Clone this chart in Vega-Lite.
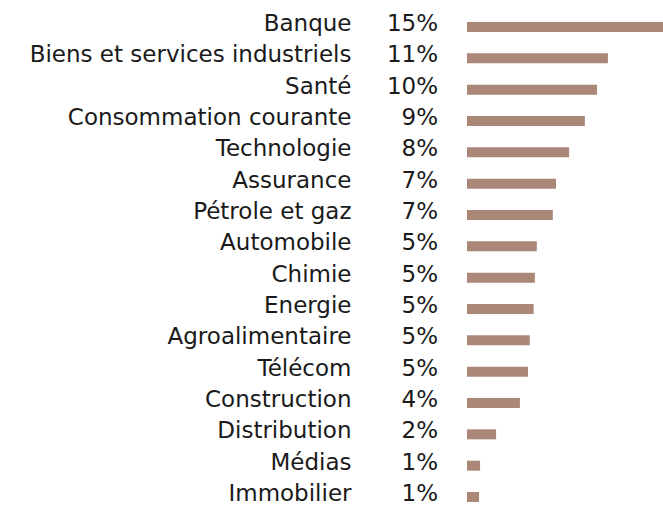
{
  "$schema": "https://vega.github.io/schema/vega-lite/v6.json",
  "autosize": {"type": "none"},
  "padding": {"left": 467, "top": 22, "right": 0, "bottom": 6},
  "width": 196,
  "height": 480,
  "background": "white",
  "config": {"view": {"stroke": null}},
  "data": {
    "values": [
      {"secteur": "Banque", "poids": 15.3, "label": "15%"},
      {"secteur": "Biens et services industriels", "poids": 11.0, "label": "11%"},
      {"secteur": "Santé", "poids": 10.15, "label": "10%"},
      {"secteur": "Consommation courante", "poids": 9.2, "label": "9%"},
      {"secteur": "Technologie", "poids": 7.97, "label": "8%"},
      {"secteur": "Assurance", "poids": 6.95, "label": "7%"},
      {"secteur": "Pétrole et gaz", "poids": 6.7, "label": "7%"},
      {"secteur": "Automobile", "poids": 5.45, "label": "5%"},
      {"secteur": "Chimie", "poids": 5.3, "label": "5%"},
      {"secteur": "Energie", "poids": 5.2, "label": "5%"},
      {"secteur": "Agroalimentaire", "poids": 4.9, "label": "5%"},
      {"secteur": "Télécom", "poids": 4.76, "label": "5%"},
      {"secteur": "Construction", "poids": 4.13, "label": "4%"},
      {"secteur": "Distribution", "poids": 2.27, "label": "2%"},
      {"secteur": "Médias", "poids": 1.02, "label": "1%"},
      {"secteur": "Immobilier", "poids": 0.94, "label": "1%"}
    ]
  },
  "encoding": {
    "y": {
      "field": "secteur",
      "type": "nominal",
      "sort": null,
      "scale": {"paddingInner": 0.68, "paddingOuter": 0},
      "axis": {
        "title": null,
        "domain": false,
        "ticks": false,
        "labelPadding": 116,
        "labelFont": "DejaVu Sans",
        "labelFontSize": 23,
        "labelColor": "#1a1a1a",
        "labelLimit": 0,
        "labelOffset": -3
      }
    }
  },
  "layer": [
    {
      "mark": {"type": "bar", "color": "#aa8777"},
      "encoding": {
        "x": {
          "field": "poids",
          "type": "quantitative",
          "scale": {"domain": [0, 15.3], "nice": false, "zero": true},
          "axis": null
        }
      }
    },
    {
      "mark": {
        "type": "text",
        "align": "right",
        "baseline": "middle",
        "dx": -29,
        "dy": -3,
        "font": "DejaVu Sans",
        "fontSize": 23,
        "color": "#1a1a1a"
      },
      "encoding": {
        "x": {"datum": 0, "type": "quantitative"},
        "text": {"field": "label"}
      }
    }
  ]
}
